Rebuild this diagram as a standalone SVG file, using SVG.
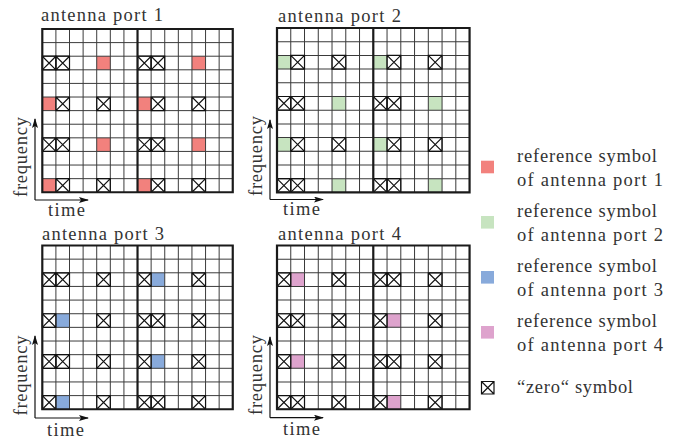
<svg xmlns="http://www.w3.org/2000/svg" xmlns:xlink="http://www.w3.org/1999/xlink" width="686" height="441" viewBox="0 0 686 441">
<style>
text{font-family:'Liberation Serif','Times New Roman',serif;font-size:18.5px;fill:#333}
.gl{fill:none;stroke:#3a3a3a;stroke-width:1}
.bd{fill:none;stroke:#1a1a1a;stroke-width:2.2}
.xc{fill:none;stroke:#111;stroke-width:1.2}
.ax{fill:none;stroke:#111;stroke-width:1.2}
.c1{fill:#f2817d}
.c2{fill:#c7e4c0}
.c3{fill:#88aadb}
.c4{fill:#dea3cd}
</style>
<defs>
<marker id="ah" viewBox="0 0 10 6" refX="9" refY="3" markerWidth="10" markerHeight="6" markerUnits="userSpaceOnUse" orient="auto">
<path d="M0,0 L10,3 L0,6 L2,3 Z" fill="#111"/>
</marker>
<path id="gl" class="gl" d="M13.7,0V164.4M27.4,0V164.4M41.1,0V164.4M54.8,0V164.4M68.5,0V164.4M82.2,0V164.4M109.6,0V164.4M123.3,0V164.4M137,0V164.4M150.7,0V164.4M164.4,0V164.4M178.1,0V164.4M0,13.7H191.8M0,27.4H191.8M0,41.1H191.8M0,54.8H191.8M0,68.5H191.8M0,82.2H191.8M0,95.9H191.8M0,109.6H191.8M0,123.3H191.8M0,137H191.8M0,150.7H191.8"/>
<path id="bd" class="bd" d="M0,0H191.8V164.4H0Z M95.9,0V164.4"/>
<path id="x" class="xc" d="M0,0H13.7V13.7H0Z M0,0L13.7,13.7 M13.7,0L0,13.7"/>
<rect id="s" width="13.7" height="13.7"/>
</defs>
<rect width="686" height="441" fill="#fff"/>

<g id="port1">
<text x="41" y="21" textLength="122" lengthAdjust="spacing">antenna port 1</text>
<g transform="translate(42.3,29) scale(0.993,0.993)">
<g class="c1">
<use xlink:href="#s" x="54.8" y="27.4"/><use xlink:href="#s" x="150.7" y="27.4"/>
<use xlink:href="#s" x="0" y="68.5"/><use xlink:href="#s" x="95.9" y="68.5"/>
<use xlink:href="#s" x="54.8" y="109.6"/><use xlink:href="#s" x="150.7" y="109.6"/>
<use xlink:href="#s" x="0" y="150.7"/><use xlink:href="#s" x="95.9" y="150.7"/>
</g>
<use xlink:href="#gl"/>
<use xlink:href="#x" x="0" y="27.4"/><use xlink:href="#x" x="13.7" y="27.4"/><use xlink:href="#x" x="95.9" y="27.4"/><use xlink:href="#x" x="109.6" y="27.4"/>
<use xlink:href="#x" x="13.7" y="68.5"/><use xlink:href="#x" x="54.8" y="68.5"/><use xlink:href="#x" x="109.6" y="68.5"/><use xlink:href="#x" x="150.7" y="68.5"/>
<use xlink:href="#x" x="0" y="109.6"/><use xlink:href="#x" x="13.7" y="109.6"/><use xlink:href="#x" x="95.9" y="109.6"/><use xlink:href="#x" x="109.6" y="109.6"/>
<use xlink:href="#x" x="13.7" y="150.7"/><use xlink:href="#x" x="54.8" y="150.7"/><use xlink:href="#x" x="109.6" y="150.7"/><use xlink:href="#x" x="150.7" y="150.7"/>
<use xlink:href="#bd"/>
</g>
<path class="ax" d="M35,200V119" marker-end="url(#ah)"/>
<path class="ax" d="M35,200H88" marker-end="url(#ah)"/>
<text transform="translate(26.5,157) rotate(-90)" text-anchor="middle" textLength="80" lengthAdjust="spacing">frequency</text>
<text x="48" y="216" textLength="37" lengthAdjust="spacing">time</text>
</g>

<g id="port2">
<text x="278" y="22" textLength="123" lengthAdjust="spacing">antenna port 2</text>
<g transform="translate(277,28) scale(1.004,1)">
<g class="c2">
<use xlink:href="#s" x="0" y="27.4"/><use xlink:href="#s" x="95.9" y="27.4"/>
<use xlink:href="#s" x="54.8" y="68.5"/><use xlink:href="#s" x="150.7" y="68.5"/>
<use xlink:href="#s" x="0" y="109.6"/><use xlink:href="#s" x="95.9" y="109.6"/>
<use xlink:href="#s" x="54.8" y="150.7"/><use xlink:href="#s" x="150.7" y="150.7"/>
</g>
<use xlink:href="#gl"/>
<use xlink:href="#x" x="13.7" y="27.4"/><use xlink:href="#x" x="54.8" y="27.4"/><use xlink:href="#x" x="109.6" y="27.4"/><use xlink:href="#x" x="150.7" y="27.4"/>
<use xlink:href="#x" x="0" y="68.5"/><use xlink:href="#x" x="13.7" y="68.5"/><use xlink:href="#x" x="95.9" y="68.5"/><use xlink:href="#x" x="109.6" y="68.5"/>
<use xlink:href="#x" x="13.7" y="109.6"/><use xlink:href="#x" x="54.8" y="109.6"/><use xlink:href="#x" x="109.6" y="109.6"/><use xlink:href="#x" x="150.7" y="109.6"/>
<use xlink:href="#x" x="0" y="150.7"/><use xlink:href="#x" x="13.7" y="150.7"/><use xlink:href="#x" x="95.9" y="150.7"/><use xlink:href="#x" x="109.6" y="150.7"/>
<use xlink:href="#bd"/>
</g>
<path class="ax" d="M270,199.5V120" marker-end="url(#ah)"/>
<path class="ax" d="M270,199.5H323" marker-end="url(#ah)"/>
<text transform="translate(261.5,156) rotate(-90)" text-anchor="middle" textLength="80" lengthAdjust="spacing">frequency</text>
<text x="283" y="215" textLength="37" lengthAdjust="spacing">time</text>
</g>

<g id="port3">
<text x="42" y="240" textLength="122" lengthAdjust="spacing">antenna port 3</text>
<g transform="translate(42.3,245.5) scale(0.993,0.996)">
<g class="c3">
<use xlink:href="#s" x="109.6" y="27.4"/>
<use xlink:href="#s" x="13.7" y="68.5"/>
<use xlink:href="#s" x="109.6" y="109.6"/>
<use xlink:href="#s" x="13.7" y="150.7"/>
</g>
<use xlink:href="#gl"/>
<use xlink:href="#x" x="0" y="27.4"/><use xlink:href="#x" x="13.7" y="27.4"/><use xlink:href="#x" x="54.8" y="27.4"/><use xlink:href="#x" x="95.9" y="27.4"/><use xlink:href="#x" x="150.7" y="27.4"/>
<use xlink:href="#x" x="0" y="68.5"/><use xlink:href="#x" x="54.8" y="68.5"/><use xlink:href="#x" x="95.9" y="68.5"/><use xlink:href="#x" x="109.6" y="68.5"/><use xlink:href="#x" x="150.7" y="68.5"/>
<use xlink:href="#x" x="0" y="109.6"/><use xlink:href="#x" x="13.7" y="109.6"/><use xlink:href="#x" x="54.8" y="109.6"/><use xlink:href="#x" x="95.9" y="109.6"/><use xlink:href="#x" x="150.7" y="109.6"/>
<use xlink:href="#x" x="0" y="150.7"/><use xlink:href="#x" x="54.8" y="150.7"/><use xlink:href="#x" x="95.9" y="150.7"/><use xlink:href="#x" x="109.6" y="150.7"/><use xlink:href="#x" x="150.7" y="150.7"/>
<use xlink:href="#bd"/>
</g>
<path class="ax" d="M35,418V336" marker-end="url(#ah)"/>
<path class="ax" d="M35,418H88" marker-end="url(#ah)"/>
<text transform="translate(26.5,375.5) rotate(-90)" text-anchor="middle" textLength="80" lengthAdjust="spacing">frequency</text>
<text x="47" y="436" textLength="37" lengthAdjust="spacing">time</text>
</g>

<g id="port4">
<text x="278" y="240" textLength="123" lengthAdjust="spacing">antenna port 4</text>
<g transform="translate(277,245.5) scale(1.004,0.996)">
<g class="c4">
<use xlink:href="#s" x="13.7" y="27.4"/>
<use xlink:href="#s" x="109.6" y="68.5"/>
<use xlink:href="#s" x="13.7" y="109.6"/>
<use xlink:href="#s" x="109.6" y="150.7"/>
</g>
<use xlink:href="#gl"/>
<use xlink:href="#x" x="0" y="27.4"/><use xlink:href="#x" x="54.8" y="27.4"/><use xlink:href="#x" x="95.9" y="27.4"/><use xlink:href="#x" x="109.6" y="27.4"/><use xlink:href="#x" x="150.7" y="27.4"/>
<use xlink:href="#x" x="0" y="68.5"/><use xlink:href="#x" x="13.7" y="68.5"/><use xlink:href="#x" x="54.8" y="68.5"/><use xlink:href="#x" x="95.9" y="68.5"/><use xlink:href="#x" x="150.7" y="68.5"/>
<use xlink:href="#x" x="0" y="109.6"/><use xlink:href="#x" x="54.8" y="109.6"/><use xlink:href="#x" x="95.9" y="109.6"/><use xlink:href="#x" x="109.6" y="109.6"/><use xlink:href="#x" x="150.7" y="109.6"/>
<use xlink:href="#x" x="0" y="150.7"/><use xlink:href="#x" x="13.7" y="150.7"/><use xlink:href="#x" x="54.8" y="150.7"/><use xlink:href="#x" x="95.9" y="150.7"/><use xlink:href="#x" x="150.7" y="150.7"/>
<use xlink:href="#bd"/>
</g>
<path class="ax" d="M270,417.7V337" marker-end="url(#ah)"/>
<path class="ax" d="M270,417.7H323" marker-end="url(#ah)"/>
<text transform="translate(261.5,375) rotate(-90)" text-anchor="middle" textLength="80" lengthAdjust="spacing">frequency</text>
<text x="283" y="435" textLength="37" lengthAdjust="spacing">time</text>
</g>

<g id="legend">
<rect class="c1" x="481" y="160.7" width="13" height="12.6"/>
<text x="517" y="162" textLength="140" lengthAdjust="spacing">reference symbol</text>
<text x="517" y="185.5" textLength="146" lengthAdjust="spacing">of antenna port 1</text>
<rect class="c2" x="481" y="216" width="13" height="12.6"/>
<text x="517" y="217" textLength="140" lengthAdjust="spacing">reference symbol</text>
<text x="517" y="240.5" textLength="146" lengthAdjust="spacing">of antenna port 2</text>
<rect class="c3" x="481" y="271" width="13" height="12.6"/>
<text x="517" y="272" textLength="140" lengthAdjust="spacing">reference symbol</text>
<text x="517" y="295.5" textLength="146" lengthAdjust="spacing">of antenna port 3</text>
<rect class="c4" x="481" y="326" width="13" height="12.6"/>
<text x="517" y="327" textLength="140" lengthAdjust="spacing">reference symbol</text>
<text x="517" y="350.5" textLength="146" lengthAdjust="spacing">of antenna port 4</text>
<path class="xc" d="M481.5,381.5H494V394H481.5Z M481.5,381.5L494,394 M494,381.5L481.5,394"/>
<text x="517" y="392.5" textLength="116" lengthAdjust="spacing">“zero“ symbol</text>
</g>
</svg>
